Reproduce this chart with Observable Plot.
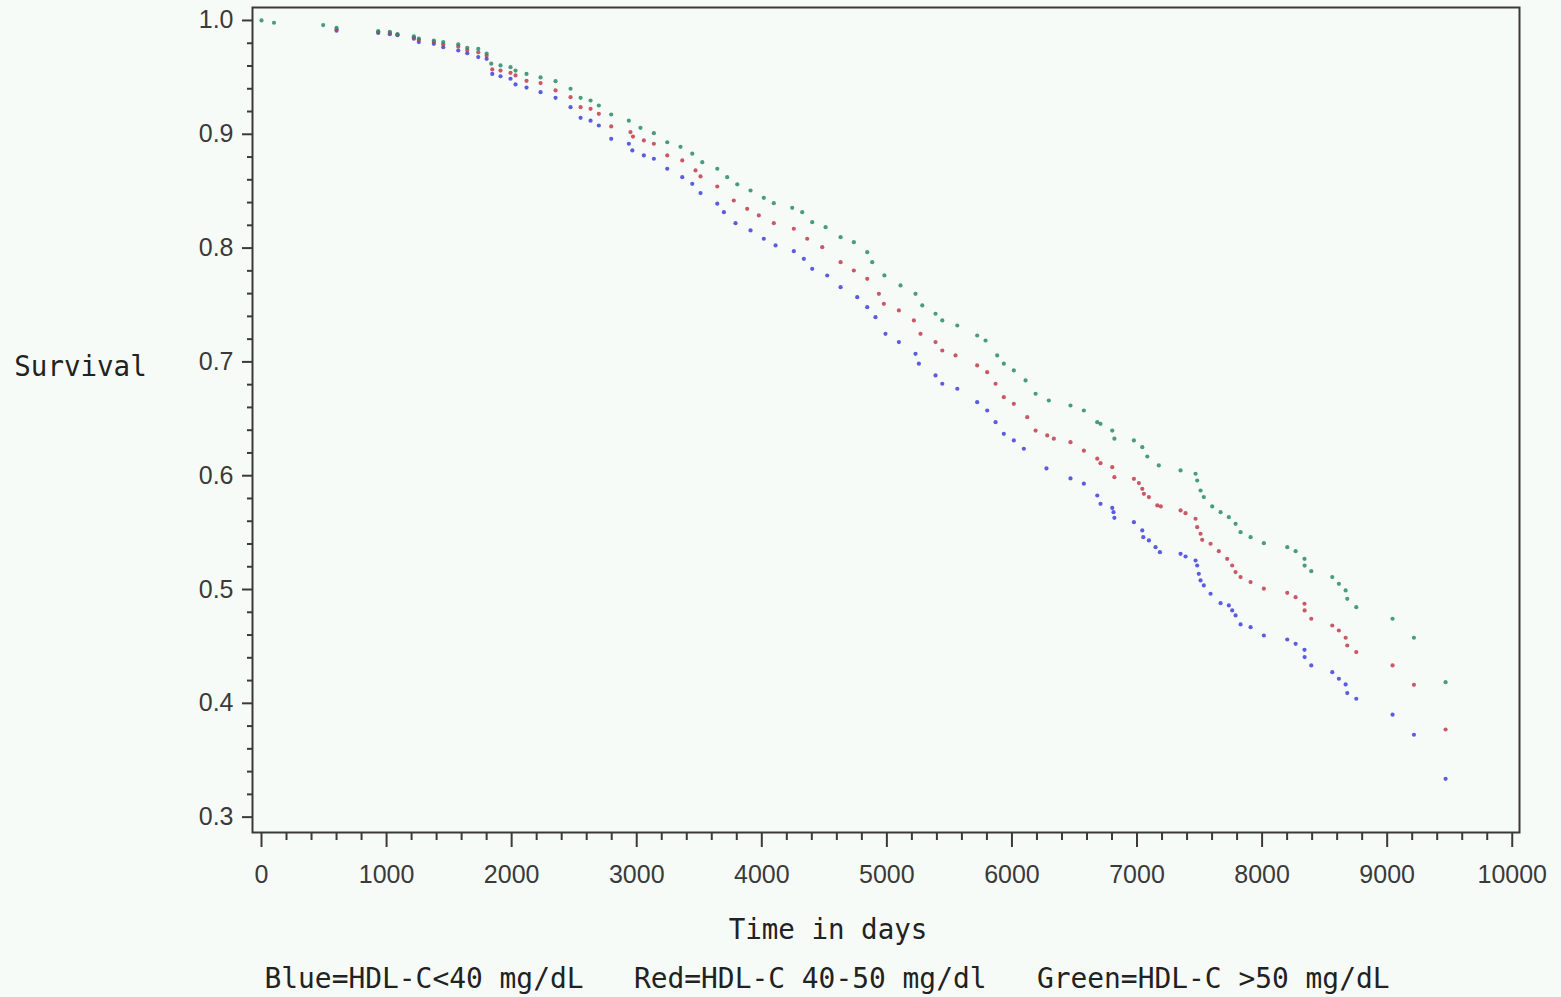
<!DOCTYPE html>
<html>
<head>
<meta charset="utf-8">
<script src="https://cdn.jsdelivr.net/npm/d3@7"></script>
<script src="https://cdn.jsdelivr.net/npm/@observablehq/plot@0.6"></script>
<style>
  html, body { margin: 0; padding: 0; background: #f7fbf8; }
  #chart svg { display: block; }
</style>
</head>
<body>
<div id="chart"></div>
<script>
// ---- Data ----
const groups = ["HDL-C<40", "HDL-C 40-50", "HDL-C >50"];
const groupColors = ["#4040dc", "#c23c4c", "#2a8a6c"];

const xTickValues = [0, 1000, 2000, 3000, 4000, 5000, 6000, 7000, 8000, 9000, 10000];
const yTickValues = [0.3, 0.4, 0.5, 0.6, 0.7, 0.8, 0.9, 1.0];

const xLabel = "Time in days";
const yLabel = "Survival";
const captionText = "Blue=HDL-C<40 mg/dL   Red=HDL-C 40-50 mg/dl   Green=HDL-C >50 mg/dL";

const blueDays = [600, 933, 1026, 1087, 1218, 1258, 1378, 1453, 1573, 1645, 1733, 1800, 1845, 1911, 1991, 2031, 2119, 2231, 2351, 2471, 2551, 2631, 2697, 2796, 2937, 2965, 3057, 3137, 3244, 3364, 3444, 3510, 3644, 3697, 3790, 3910, 4016, 4110, 4256, 4336, 4403, 4523, 4630, 4763, 4843, 4909, 4989, 5096, 5229, 5256, 5389, 5443, 5563, 5722, 5802, 5869, 5935, 6015, 6095, 6276, 6468, 6575, 6682, 6708, 6802, 6812, 6819, 6975, 7042, 7050, 7095, 7148, 7183, 7348, 7388, 7468, 7481, 7494, 7508, 7534, 7588, 7668, 7734, 7761, 7788, 7828, 7908, 8014, 8201, 8268, 8339, 8340, 8393, 8561, 8614, 8668, 8681, 8753, 9043, 9214, 9467];
const blueSurv = [0.991, 0.989, 0.988, 0.987, 0.984, 0.981, 0.9795, 0.9765, 0.9736, 0.9713, 0.9678, 0.9663, 0.953, 0.951, 0.9488, 0.9438, 0.941, 0.937, 0.932, 0.9238, 0.9145, 0.912, 0.9077, 0.896, 0.8917, 0.8858, 0.8814, 0.8785, 0.8697, 0.8623, 0.8565, 0.8483, 0.839, 0.8316, 0.8219, 0.8155, 0.8082, 0.8023, 0.7973, 0.7906, 0.7818, 0.7759, 0.7657, 0.7569, 0.7481, 0.7393, 0.7247, 0.7174, 0.7071, 0.6984, 0.6881, 0.6808, 0.6764, 0.6646, 0.6573, 0.647, 0.6368, 0.631, 0.6237, 0.6064, 0.5976, 0.593, 0.5826, 0.5753, 0.5718, 0.568, 0.563, 0.5592, 0.5519, 0.546, 0.5431, 0.5372, 0.5328, 0.5314, 0.529, 0.5255, 0.5211, 0.5138, 0.508, 0.5036, 0.4963, 0.488, 0.486, 0.4816, 0.4772, 0.4693, 0.4669, 0.4596, 0.4561, 0.4523, 0.447, 0.4406, 0.4333, 0.4274, 0.4216, 0.4166, 0.409, 0.404, 0.39, 0.3724, 0.3337];

const redDays = [600, 933, 1026, 1087, 1218, 1258, 1378, 1453, 1573, 1645, 1733, 1800, 1845, 1911, 1991, 2031, 2119, 2231, 2351, 2471, 2551, 2631, 2697, 2796, 2950, 2970, 3057, 3137, 3244, 3364, 3470, 3510, 3644, 3776, 3883, 3976, 4096, 4256, 4363, 4483, 4630, 4736, 4843, 4936, 4976, 5096, 5216, 5269, 5389, 5443, 5549, 5722, 5802, 5869, 5935, 6015, 6122, 6189, 6282, 6335, 6468, 6575, 6682, 6708, 6802, 6819, 6975, 7015, 7042, 7055, 7095, 7162, 7190, 7348, 7388, 7468, 7481, 7508, 7521, 7588, 7654, 7721, 7761, 7788, 7828, 7908, 8014, 8201, 8268, 8339, 8340, 8393, 8561, 8614, 8668, 8681, 8753, 9043, 9214, 9467];
const redSurv = [0.992, 0.9898, 0.989, 0.9877, 0.985, 0.983, 0.981, 0.979, 0.977, 0.974, 0.972, 0.969, 0.957, 0.956, 0.954, 0.9517, 0.947, 0.945, 0.9385, 0.9326, 0.9238, 0.9224, 0.918, 0.9069, 0.9019, 0.898, 0.8946, 0.8917, 0.8814, 0.877, 0.8682, 0.863, 0.8541, 0.8418, 0.8345, 0.8287, 0.8219, 0.817, 0.8082, 0.8008, 0.7876, 0.7803, 0.773, 0.7598, 0.751, 0.7452, 0.7364, 0.7247, 0.7174, 0.71, 0.7057, 0.6969, 0.691, 0.6808, 0.669, 0.6632, 0.6514, 0.6397, 0.6354, 0.6325, 0.6295, 0.622, 0.615, 0.611, 0.6075, 0.5987, 0.5973, 0.5935, 0.5885, 0.5841, 0.5812, 0.5739, 0.573, 0.5695, 0.5671, 0.5622, 0.5548, 0.549, 0.5437, 0.5402, 0.5337, 0.527, 0.5211, 0.5153, 0.5109, 0.5065, 0.5007, 0.4971, 0.4933, 0.4875, 0.4816, 0.4743, 0.4684, 0.464, 0.4576, 0.4508, 0.445, 0.4333, 0.4163, 0.377];

const greenDays = [0, 100, 493, 600, 933, 1026, 1087, 1218, 1258, 1378, 1453, 1573, 1645, 1733, 1800, 1837, 1911, 1991, 2031, 2119, 2231, 2351, 2471, 2551, 2631, 2697, 2796, 2937, 3030, 3137, 3244, 3350, 3444, 3524, 3644, 3723, 3804, 3910, 4016, 4096, 4243, 4323, 4403, 4510, 4630, 4736, 4843, 4883, 4980, 5109, 5229, 5283, 5389, 5443, 5563, 5722, 5789, 5882, 5935, 6015, 6109, 6189, 6295, 6468, 6575, 6682, 6708, 6802, 6819, 6975, 7042, 7082, 7174, 7348, 7468, 7481, 7508, 7534, 7601, 7668, 7734, 7788, 7828, 7908, 8014, 8201, 8268, 8339, 8340, 8393, 8561, 8614, 8668, 8681, 8753, 9043, 9214, 9467];
const greenSurv = [1.0, 0.998, 0.996, 0.9935, 0.9906, 0.990, 0.9877, 0.986, 0.984, 0.9824, 0.981, 0.979, 0.976, 0.975, 0.971, 0.962, 0.9605, 0.959, 0.956, 0.953, 0.950, 0.9467, 0.940, 0.932, 0.9297, 0.9253, 0.9174, 0.912, 0.9057, 0.901, 0.893, 0.889, 0.883, 0.8755, 0.8697, 0.8623, 0.856, 0.8506, 0.8442, 0.8395, 0.8354, 0.8316, 0.8228, 0.8184, 0.8096, 0.8052, 0.7964, 0.7876, 0.776, 0.7672, 0.7598, 0.7496, 0.7423, 0.7364, 0.732, 0.7232, 0.7188, 0.7057, 0.6984, 0.6925, 0.6837, 0.672, 0.6661, 0.6617, 0.6573, 0.647, 0.6456, 0.6397, 0.6325, 0.631, 0.6251, 0.6169, 0.609, 0.6046, 0.6017, 0.5958, 0.587, 0.5812, 0.573, 0.568, 0.5636, 0.5577, 0.5504, 0.546, 0.5407, 0.5372, 0.5337, 0.527, 0.521, 0.5161, 0.5109, 0.505, 0.4992, 0.4918, 0.4845, 0.4743, 0.4576, 0.4186];

// ---- Build table ----
const series = [
  {group: groups[0], days: blueDays, surv: blueSurv},
  {group: groups[1], days: redDays, surv: redSurv},
  {group: groups[2], days: greenDays, surv: greenSurv}
];
const rows = series.flatMap(s => s.days.map((d, i) => ({days: d, surv: s.surv[i], group: s.group})));

const xMinor = d3.range(0, 10001, 200).filter(v => v % 1000 !== 0);
const yMinor = d3.range(30, 101, 2).filter(v => v % 10 !== 0).map(v => v / 100);

const labelFont = "DejaVu Sans Mono";
const tickFont = "Liberation Sans, Arial, sans-serif";

const chart = Plot.plot({
  width: 1561,
  height: 997,
  marginLeft: 252,
  marginRight: 42,
  marginTop: 7,
  marginBottom: 165,
  style: {background: "#f7fbf8", fontFamily: tickFont, fontSize: "25px", color: "#3a3a3a", whiteSpace: "pre", overflow: "visible"},
  x: {domain: [-72, 10058], label: null},
  y: {domain: [0.2865, 1.0114], label: null},
  color: {type: "ordinal", domain: groups, range: groupColors},
  marks: [
    Plot.axisX({ticks: xMinor, tickSize: 8, text: null, strokeWidth: 2}),
    Plot.axisX({ticks: xTickValues, tickSize: 15, tickPadding: 18, tickFormat: d => String(d), strokeWidth: 2, fontSize: 25, label: null}),
    Plot.axisY({ticks: yMinor, tickSize: 5, text: null, strokeWidth: 2}),
    Plot.axisY({ticks: yTickValues, tickSize: 10, tickPadding: 9, tickFormat: d3.format(".1f"), strokeWidth: 2, fontSize: 25, label: null}),
    Plot.frame({stroke: "#3a3a3a", strokeWidth: 2}),
    Plot.dot(rows, {x: "days", y: "surv", fill: "group", r: 2.1, fillOpacity: 0.85}),
    Plot.text([yLabel], {text: d => d, frameAnchor: "left", dx: -172, dy: -53, textAnchor: "middle", lineAnchor: "middle", fontFamily: labelFont, fontSize: 27.5, fill: "#222"}),
    Plot.text([xLabel], {text: d => d, frameAnchor: "bottom", dx: -58, dy: 98, textAnchor: "middle", lineAnchor: "middle", fontFamily: labelFont, fontSize: 27.5, fill: "#222"}),
    Plot.text([captionText], {text: d => d, frameAnchor: "bottom", dx: -59, dy: 147, textAnchor: "middle", lineAnchor: "middle", fontFamily: labelFont, fontSize: 27.9, fill: "#222"})
  ]
});
document.getElementById("chart").appendChild(chart);
</script>
</body>
</html>
